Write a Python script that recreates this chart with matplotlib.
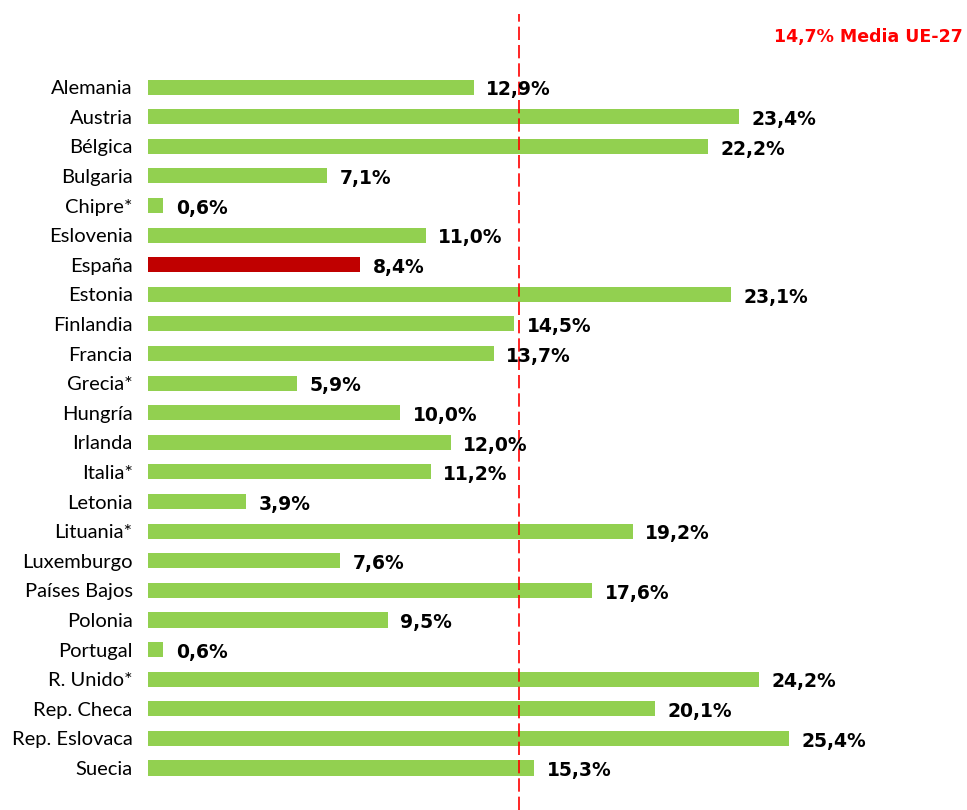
import numpy as np
import matplotlib
matplotlib.use("Agg")
import matplotlib.pyplot as plt

paises = [
    "Alemania", "Austria", "Bélgica", "Bulgaria", "Chipre*", "Eslovenia",
    "España", "Estonia", "Finlandia", "Francia", "Grecia*", "Hungría",
    "Irlanda", "Italia*", "Letonia", "Lituania*", "Luxemburgo",
    "Países Bajos", "Polonia", "Portugal", "R. Unido*", "Rep. Checa",
    "Rep. Eslovaca", "Suecia",
]
valores = [
    12.9, 23.4, 22.2, 7.1, 0.6, 11.0,
    8.4, 23.1, 14.5, 13.7, 5.9, 10.0,
    12.0, 11.2, 3.9, 19.2, 7.6,
    17.6, 9.5, 0.6, 24.2, 20.1,
    25.4, 15.3,
]
media_ue = 14.7

VERDE = "#92D050"
ROJO_ESP = "#C00000"

fig = plt.figure(figsize=(9.67, 8.10), dpi=100)
ax = fig.add_axes([148 / 967, 0.0, 1 - 148 / 967, 1 - 14 / 810])

y = np.arange(len(paises))
colores = [ROJO_ESP if p == "España" else VERDE for p in paises]
ax.barh(y, valores, height=0.51, color=colores, zorder=2)

for yi, v in zip(y, valores):
    ax.annotate(f"{v:.1f}%".replace(".", ","), xy=(v, yi), xytext=(9, -2),
                textcoords="offset points", ha="left", va="center",
                fontsize=13.5, fontweight="bold", color="#000000",
                family="DejaVu Sans", zorder=4)

ax.axvline(media_ue, color="#FF0000", lw=1.2, dashes=(8, 3), zorder=3)

ax.set_xlim(0, (967 - 148) / 25.24)
ax.set_ylim(len(paises) - 1 + 1.42, -2.47)
ax.set_yticks(y)
ax.set_yticklabels(paises, fontsize=14.5, family="Lato", color="#000000")
ax.tick_params(axis="y", length=0, pad=11)
ax.set_xticks([])
for s in ax.spines.values():
    s.set_visible(False)

fig.text(963 / 967, 1 - 37 / 810, "14,7% Media UE-27", ha="right", va="center",
         fontsize=12.5, fontweight="bold", color="#FF0000", family="DejaVu Sans")

fig.savefig("out.png", dpi=100)
